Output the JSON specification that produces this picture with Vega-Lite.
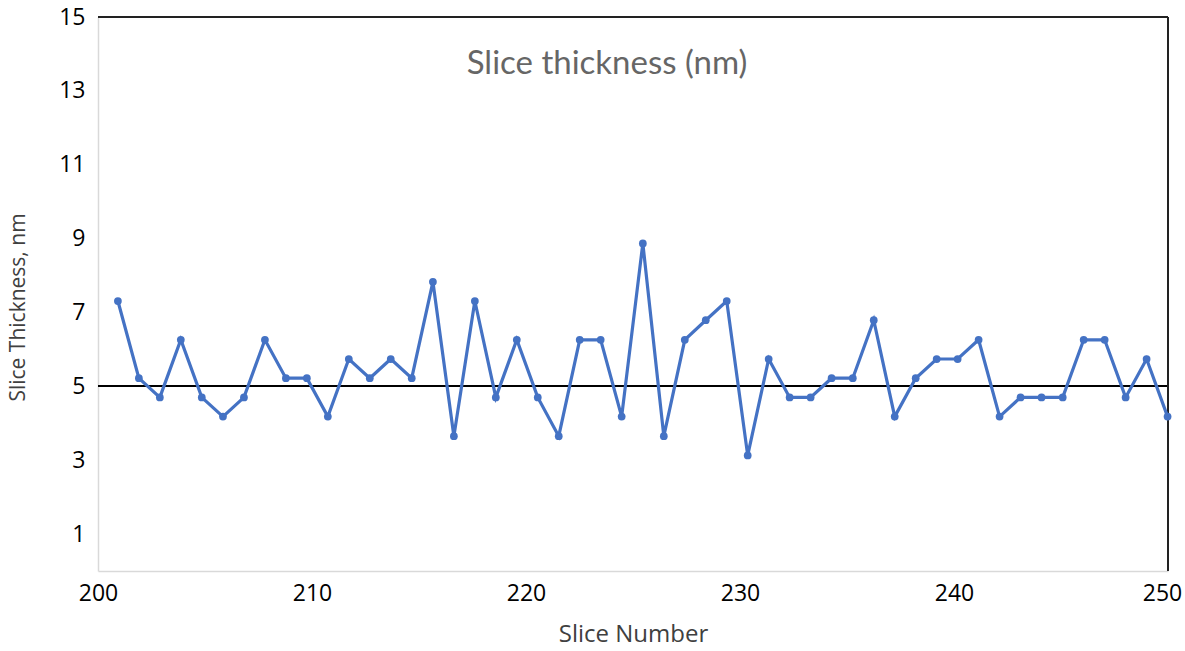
{
  "$schema": "https://vega.github.io/schema/vega-lite/v6.json",
  "autosize": {"type": "none"},
  "padding": {"left": 98, "top": 17, "right": 17, "bottom": 80},
  "width": 1070,
  "height": 554,
  "background": "white",
  "config": {"view": {"stroke": null}},
  "title": {
    "text": "Slice thickness (nm)",
    "font": "Lato",
    "fontSize": 33,
    "fontWeight": "normal",
    "color": "#666666",
    "anchor": "middle",
    "baseline": "alphabetic",
    "offset": -57,
    "dx": -26,
    "dy": 44
  },
  "data": {
    "values": [
      {"slice": 200.93, "thickness": 7.31},
      {"slice": 201.91, "thickness": 5.22},
      {"slice": 202.89, "thickness": 4.70},
      {"slice": 203.87, "thickness": 6.26},
      {"slice": 204.85, "thickness": 4.70},
      {"slice": 205.84, "thickness": 4.18},
      {"slice": 206.82, "thickness": 4.70},
      {"slice": 207.80, "thickness": 6.26},
      {"slice": 208.78, "thickness": 5.22},
      {"slice": 209.76, "thickness": 5.22},
      {"slice": 210.74, "thickness": 4.18},
      {"slice": 211.72, "thickness": 5.74},
      {"slice": 212.70, "thickness": 5.22},
      {"slice": 213.68, "thickness": 5.74},
      {"slice": 214.66, "thickness": 5.22},
      {"slice": 215.65, "thickness": 7.83},
      {"slice": 216.63, "thickness": 3.65},
      {"slice": 217.61, "thickness": 7.31},
      {"slice": 218.59, "thickness": 4.70},
      {"slice": 219.57, "thickness": 6.26},
      {"slice": 220.55, "thickness": 4.70},
      {"slice": 221.53, "thickness": 3.65},
      {"slice": 222.51, "thickness": 6.26},
      {"slice": 223.49, "thickness": 6.26},
      {"slice": 224.47, "thickness": 4.18},
      {"slice": 225.46, "thickness": 8.87},
      {"slice": 226.44, "thickness": 3.65},
      {"slice": 227.42, "thickness": 6.26},
      {"slice": 228.40, "thickness": 6.79},
      {"slice": 229.38, "thickness": 7.31},
      {"slice": 230.36, "thickness": 3.13},
      {"slice": 231.34, "thickness": 5.74},
      {"slice": 232.32, "thickness": 4.70},
      {"slice": 233.30, "thickness": 4.70},
      {"slice": 234.28, "thickness": 5.22},
      {"slice": 235.27, "thickness": 5.22},
      {"slice": 236.25, "thickness": 6.79},
      {"slice": 237.23, "thickness": 4.18},
      {"slice": 238.21, "thickness": 5.22},
      {"slice": 239.19, "thickness": 5.74},
      {"slice": 240.17, "thickness": 5.74},
      {"slice": 241.15, "thickness": 6.26},
      {"slice": 242.13, "thickness": 4.18},
      {"slice": 243.11, "thickness": 4.70},
      {"slice": 244.09, "thickness": 4.70},
      {"slice": 245.08, "thickness": 4.70},
      {"slice": 246.06, "thickness": 6.26},
      {"slice": 247.04, "thickness": 6.26},
      {"slice": 248.02, "thickness": 4.70},
      {"slice": 249.00, "thickness": 5.74},
      {"slice": 249.98, "thickness": 4.18}
    ]
  },
  "layer": [
    {
      "mark": {"type": "rule", "color": "black", "strokeWidth": 1.2},
      "encoding": {"y": {"datum": 5, "type": "quantitative", "scale": {"domain": [0, 15], "nice": false}}}
    },
    {
      "mark": {"type": "rule", "color": "#222222", "strokeWidth": 2},
      "encoding": {"y": {"datum": 15, "type": "quantitative"}}
    },
    {
      "mark": {"type": "rule", "color": "#222222", "strokeWidth": 2},
      "encoding": {"x": {"datum": 250, "type": "quantitative"}}
    },
    {
      "mark": {
        "type": "line",
        "color": "#4472C4",
        "strokeWidth": 3.2,
        "point": {"filled": true, "size": 60, "color": "#4472C4"}
      },
      "encoding": {
        "x": {
          "field": "slice",
          "type": "quantitative",
          "scale": {"domain": [200, 250], "nice": false, "zero": false},
          "axis": {
            "title": "Slice Number",
            "values": [200, 210, 220, 230, 240, 250],
            "grid": false,
            "ticks": false,
            "domainColor": "#d9d9d9",
            "domainWidth": 1.5,
            "labelFont": "Open Sans",
            "labelFontSize": 23,
            "labelColor": "#000000",
            "labelPadding": 11,
            "labelFlush": false,
            "labelOffset": {"condition": {"test": "datum.value === 250", "value": -6}, "value": 0},
            "titleFont": "Open Sans",
            "titleFontSize": 24,
            "titleFontWeight": "normal",
            "titleColor": "#404040",
            "titlePadding": 17
          }
        },
        "y": {
          "field": "thickness",
          "type": "quantitative",
          "scale": {"domain": [0, 15], "nice": false},
          "axis": {
            "title": "Slice Thickness, nm",
            "values": [1, 3, 5, 7, 9, 11, 13, 15],
            "grid": false,
            "ticks": false,
            "domainColor": "#d9d9d9",
            "domainWidth": 1.5,
            "labelFont": "Open Sans",
            "labelFontSize": 23,
            "labelColor": "#000000",
            "labelPadding": 13,
            "titleFont": "Open Sans",
            "titleFontSize": 21,
            "titleFontWeight": "normal",
            "titleColor": "#404040",
            "titlePadding": 30,
            "titleY": 290
          }
        }
      }
    }
  ]
}
